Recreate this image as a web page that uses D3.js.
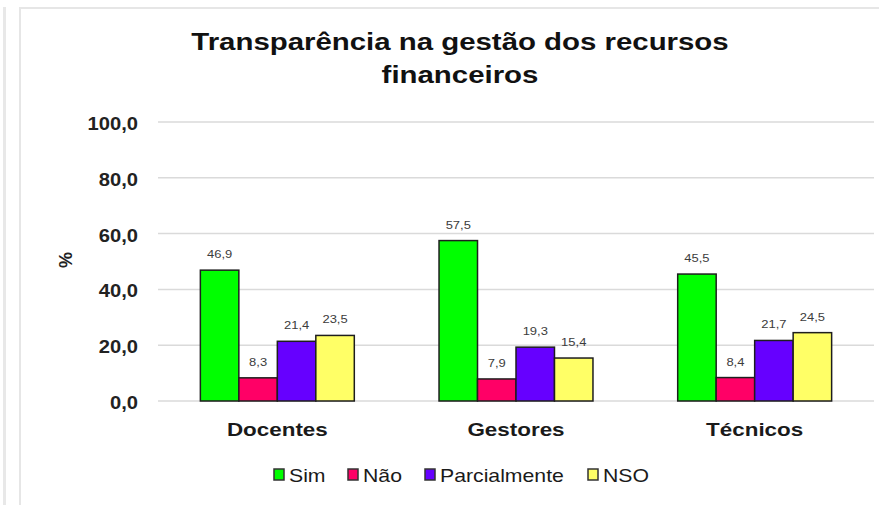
<!DOCTYPE html>
<html>
<head>
<meta charset="utf-8">
<script src="https://cdn.jsdelivr.net/npm/d3@7"></script>
<style>
  body { margin: 0; background: #fff; }
  svg { display: block; font-family: "Liberation Sans", Arial, sans-serif; }
</style>
</head>
<body>
<div id="chart"></div>
<script>
const categories = ["Docentes", "Gestores", "Técnicos"];
const seriesNames = ["Sim", "Não", "Parcialmente", "NSO"];
const seriesColors = ["#00ff00", "#ff0066", "#6600ff", "#ffff66"];
const sim = [46.9, 57.5, 45.5];
const nao = [8.3, 7.9, 8.4];
const parcialmente = [21.4, 19.3, 21.7];
const nso = [23.5, 15.4, 24.5];
const yTicks = [0, 20, 40, 60, 80, 100];
const titleLines = ["Transparência na gestão dos recursos", "financeiros"];

const series = [sim, nao, parcialmente, nso];
const width = 879, height = 505;
const stretch = 1.18; // text in the picture is drawn wider than normal

const svg = d3.select("#chart").append("svg")
    .attr("width", width)
    .attr("height", height);

// frame lines of the screenshot
svg.append("rect").attr("x", 3).attr("y", 7).attr("width", 3).attr("height", height - 7).attr("fill", "#e8e8e8");
svg.append("rect").attr("x", 19).attr("y", 7).attr("width", 2).attr("height", height - 7).attr("fill", "#e6e6e6");
svg.append("rect").attr("x", 19).attr("y", 7).attr("width", width - 19).attr("height", 2).attr("fill", "#e6e6e6");

const x0 = d3.scaleBand()
    .domain(categories)
    .range([158, 874])
    .paddingInner(0.355)
    .paddingOuter(0.1775);

const x1 = d3.scaleBand()
    .domain(seriesNames)
    .range([0, x0.bandwidth()]);

const y = d3.scaleLinear()
    .domain([0, 100])
    .range([401, 122]);

const fmt = v => d3.format(".1f")(v).replace(".", ",");

function stretchedText(sel, tx, ty, k = stretch) {
    return sel.attr("transform", `translate(${tx},${ty}) scale(${k},1)`);
}

// gridlines
svg.append("g")
    .selectAll("line")
    .data(yTicks)
    .join("line")
    .attr("x1", 158)
    .attr("x2", 874)
    .attr("y1", d => y(d))
    .attr("y2", d => y(d))
    .attr("stroke", "#dadada")
    .attr("stroke-width", 1.5);

// y tick labels
svg.append("g")
    .selectAll("text")
    .data(yTicks)
    .join("text")
    .each(function (d) { stretchedText(d3.select(this), 138, y(d) + 8, 1.12); })
    .attr("text-anchor", "end")
    .attr("font-size", 18)
    .attr("font-weight", "bold")
    .attr("fill", "#222")
    .text(d => fmt(d));

// y axis title
svg.append("text")
    .attr("transform", "translate(72,260) rotate(-90)")
    .attr("text-anchor", "middle")
    .attr("font-size", 18)
    .attr("font-weight", "bold")
    .attr("fill", "#222")
    .text("%");

// bars
const groups = svg.append("g")
    .selectAll("g")
    .data(categories)
    .join("g")
    .attr("transform", d => `translate(${x0(d)},0)`);

groups.selectAll("rect")
    .data((c, i) => seriesNames.map((s, j) => ({s, v: series[j][i], color: seriesColors[j]})))
    .join("rect")
    .attr("x", d => x1(d.s))
    .attr("y", d => y(d.v))
    .attr("width", x1.bandwidth())
    .attr("height", d => y(0) - y(d.v))
    .attr("fill", d => d.color)
    .attr("stroke", "#1e1e1e")
    .attr("stroke-width", 1.5);

groups.selectAll("text")
    .data((c, i) => seriesNames.map((s, j) => ({s, v: series[j][i]})))
    .join("text")
    .each(function (d) { stretchedText(d3.select(this), x1(d.s) + x1.bandwidth() / 2, y(d.v) - 12); })
    .attr("text-anchor", "middle")
    .attr("font-size", 11)
    .attr("fill", "#3c3c3c")
    .text(d => fmt(d.v));

// category labels
svg.append("g")
    .selectAll("text")
    .data(categories)
    .join("text")
    .each(function (d) { stretchedText(d3.select(this), x0(d) + x0.bandwidth() / 2, 436); })
    .attr("text-anchor", "middle")
    .attr("font-size", 19)
    .attr("font-weight", "bold")
    .attr("fill", "#1a1a1a")
    .text(d => d);

// title
svg.append("g")
    .selectAll("text")
    .data(titleLines)
    .join("text")
    .each(function (d, i) { stretchedText(d3.select(this), 460, 50 + i * 33, 1.2); })
    .attr("text-anchor", "middle")
    .attr("font-size", 24.5)
    .attr("font-weight", "bold")
    .attr("fill", "#111")
    .text(d => d);

// legend
const legendX = [274, 348, 425, 588];
const legend = svg.append("g")
    .selectAll("g")
    .data(seriesNames)
    .join("g")
    .attr("transform", (d, i) => `translate(${legendX[i]},469)`);

legend.append("rect")
    .attr("width", 10)
    .attr("height", 11)
    .attr("fill", (d, i) => seriesColors[i])
    .attr("stroke", "#333")
    .attr("stroke-width", 1.5);

legend.append("text")
    .each(function () { stretchedText(d3.select(this), 15, 13); })
    .attr("font-size", 18)
    .attr("fill", "#1a1a1a")
    .text(d => d);
</script>
</body>
</html>
